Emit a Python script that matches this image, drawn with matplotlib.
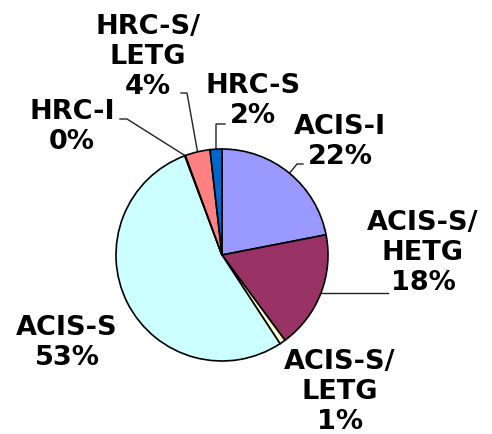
import numpy as np
import matplotlib
matplotlib.use("Agg")
import matplotlib.pyplot as plt

# -----------------------------------
# Data: share of observing time per instrument
# -----------------------------------
instruments = ["ACIS-I", "ACIS-S/\nHETG", "ACIS-S/\nLETG", "ACIS-S",
               "HRC-I", "HRC-S/\nLETG", "HRC-S"]
shares = [21.9, 17.9, 0.9, 53.4, 0.1, 3.8, 1.8]
colors = ["#9999FF", "#993366", "#FFFFCC", "#CCFFFF",
          "#660066", "#FF8080", "#0066CC"]

# -----------------------------------
# Layout (pixel positions of the label centres, leader elbows)
# -----------------------------------
W, H = 492, 434
CX, CY, R = 222, 255, 106


def px(x, y):
    # pixel position -> data units (pie radius = 1)
    return ((x - CX) / R, (CY - y) / R)


label_pos = [(340, 142), (423, 253), (340, 392), (67, 343),
             (72, 127), (148, 57), (253, 101)]
# (text end, elbow) of leader lines, None = no leader
leaders = [((303, 164), (297, 164)), ((388, 293), None), None, None,
           ((120, 119), (127, 119)), ((181, 93), (187, 93)),
           ((225, 124), (216, 124))]

fig = plt.figure(figsize=(W / 100, H / 100), dpi=100)
ax = fig.add_axes([0, 0, 1, 1])

wedges, _ = ax.pie(shares, colors=colors, startangle=90, counterclock=False,
                   radius=1, center=(0, 0),
                   wedgeprops=dict(edgecolor="black", linewidth=1.2))

for i, w in enumerate(wedges):
    pct = "%d%%" % round(shares[i])
    tx, ty = px(*label_pos[i])
    ax.text(tx, ty, instruments[i] + "\n" + pct, ha="center", va="center",
            multialignment="center", fontsize=19.5, fontweight="bold",
            family="DejaVu Sans", linespacing=1.22)

    if leaders[i] is None:
        continue
    mid = np.deg2rad((w.theta1 + w.theta2) / 2)
    ex, ey = np.cos(mid), np.sin(mid)
    end, elbow = leaders[i]
    p_end = px(*end)
    if elbow is None:
        p_elbow = (ex, p_end[1])
    else:
        p_elbow = px(*elbow)
    ax.plot([p_end[0], p_elbow[0], ex], [p_end[1], p_elbow[1], ey],
            color="#222222", linewidth=1.0, zorder=0.5)

ax.set_xlim(-CX / R, (W - CX) / R)
ax.set_ylim(-(H - CY) / R, CY / R)
ax.set_aspect("equal")
ax.axis("off")

fig.savefig("out.png", dpi=100, facecolor="white")
